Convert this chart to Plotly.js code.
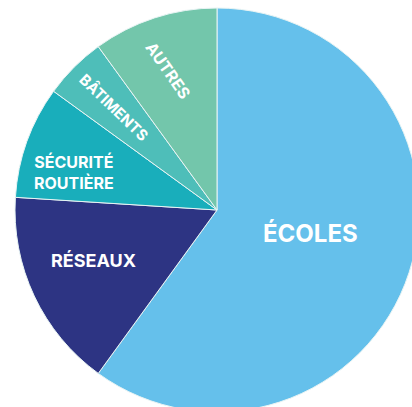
<!DOCTYPE html>
<html><head><meta charset="utf-8">
<script src="https://cdn.plot.ly/plotly-3.0.1.min.js"></script>
<style>html,body{margin:0;padding:0;overflow:hidden;background:#fff;width:412px;height:407px}#c{width:440px;height:420px}</style>
</head><body><div id="c"></div>
<script>
const labels = ["ÉCOLES", "RÉSEAUX", "SÉCURITÉ ROUTIÈRE", "BÂTIMENTS", "AUTRES"];
const values = [60, 16, 9, 5, 10];
const colors = ["#65C0EB", "#2D3483", "#19AEBB", "#4EBEB9", "#73C6AB"];
const W = 440, H = 420;
const px = (x) => x / W, py = (y) => 1 - y / H;
const ann = [
  {text: "ÉCOLES", x: 310, y: 233, size: 24, angle: 0},
  {text: "RÉSEAUX", x: 93, y: 260, size: 18, angle: 0},
  {text: "SÉCURITÉ<br>ROUTIÈRE", x: 74, y: 172, size: 16, angle: 0},
  {text: "BÂTIMENTS", x: 114, y: 107, size: 15, angle: 44},
  {text: "AUTRES", x: 168, y: 70, size: 16, angle: 55}
];
Plotly.newPlot("c", [{
  type: "pie", labels: labels, values: values, sort: false, direction: "clockwise", rotation: 0,
  marker: {colors: colors, line: {color: "#E8F4F4", width: 1}},
  textinfo: "none", hoverinfo: "label+percent", showlegend: false,
  domain: {x: [15 / W, 419 / W], y: [8 / H, 412 / H]}
}], {
  width: W, height: H, margin: {l: 0, r: 0, t: 0, b: 0},
  paper_bgcolor: "#fff", showlegend: false,
  annotations: ann.map(a => ({text: a.text, x: px(a.x), y: py(a.y), xref: "paper", yref: "paper",
    showarrow: false, textangle: a.angle, xanchor: "center", yanchor: "middle",
    font: {family: "Inter, 'Open Sans', sans-serif", size: a.size, color: "#fff", weight: 700}}))
}, {staticPlot: true, displayModeBar: false});
</script></body></html>
